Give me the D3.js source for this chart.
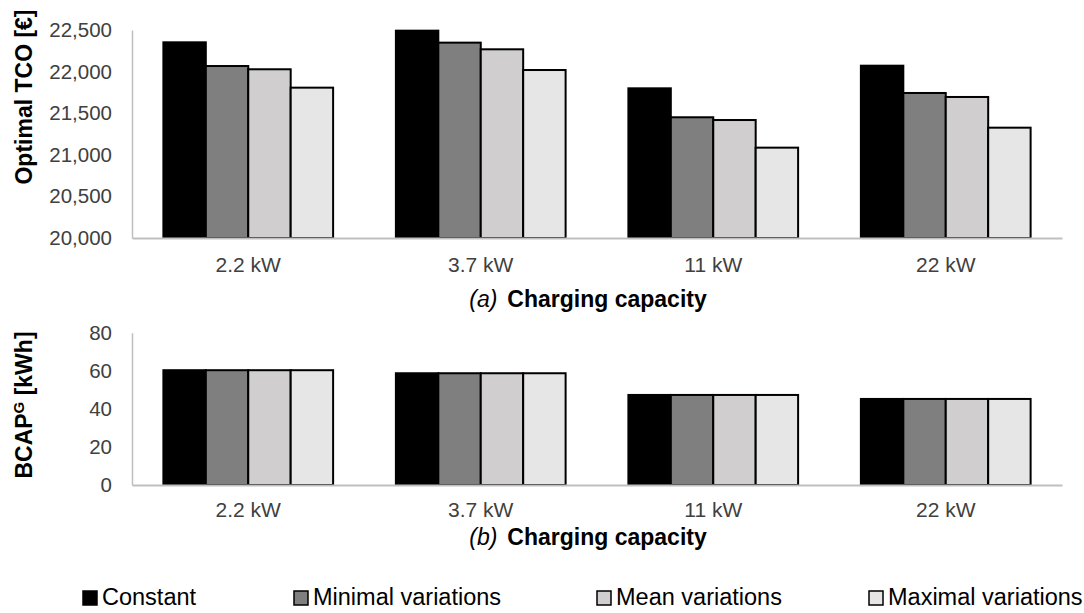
<!DOCTYPE html>
<html>
<head>
<meta charset="utf-8">
<script src="https://cdn.jsdelivr.net/npm/d3@7"></script>
<style>
  body { margin: 0; background: #fff; }
  svg { display: block; font-family: Arial, "Liberation Sans", sans-serif; }
</style>
</head>
<body>
<script>
// chart data
var categories = ['2.2 kW', '3.7 kW', '11 kW', '22 kW'];
var seriesNames = ['Constant', 'Minimal variations', 'Mean variations', 'Maximal variations'];
var seriesColors = ['#000000', '#7f7f7f', '#d0cece', '#e7e6e6'];

// (a) optimal TCO per charging capacity, one array per series
var tcoConstant = [22352, 22492, 21799, 22071];
var tcoMinimal  = [22067, 22348, 21451, 21743];
var tcoMean     = [22028, 22268, 21418, 21695];
var tcoMaximal  = [21807, 22019, 21086, 21326];
var tcoTicks = [20000, 20500, 21000, 21500, 22000, 22500];

// (b) battery capacity
var bcapConstant = [60.3, 58.7, 47.3, 45.2];
var bcapMinimal  = [60.3, 58.7, 47.3, 45.2];
var bcapMean     = [60.3, 58.7, 47.3, 45.2];
var bcapMaximal  = [60.3, 58.7, 47.3, 45.2];
var bcapTicks = [0, 20, 40, 60, 80];

var width = 1084, height = 613;
var left = 132, right = 1062;

var svg = d3.select('body').append('svg')
  .attr('width', width)
  .attr('height', height);

//shared x scales
var x0 = d3.scaleBand()
  .domain(categories)
  .range([left, right])
  .paddingInner(0.27)
  .paddingOuter(0.135);

var x1 = d3.scaleBand()
  .domain(seriesNames)
  .range([0, x0.bandwidth()]);

function drawPanel(series, yDomain, yRange, ticks, fmt, labelPad) {
  var y = d3.scaleLinear().domain(yDomain).range(yRange);
  var g = svg.append('g');

  // bars
  var groups = g.selectAll('g.grp')
    .data(categories)
    .enter().append('g')
    .attr('class', 'grp')
    .attr('transform', function(d) { return 'translate(' + x0(d) + ',0)'; });

  groups.selectAll('rect')
    .data(function(d, i) {
      return seriesNames.map(function(s, j) { return { s: s, j: j, v: series[j][i] }; });
    })
    .enter().append('rect')
    .attr('x', function(d) { return x1(d.s); })
    .attr('y', function(d) { return y(d.v); })
    .attr('width', x1.bandwidth())
    .attr('height', function(d) { return y(yDomain[0]) - y(d.v); })
    .attr('fill', function(d) { return seriesColors[d.j]; })
    .attr('stroke', '#000')
    .attr('stroke-width', 2);

  // y axis
  var ya = g.append('g')
    .attr('transform', 'translate(' + left + ',0)')
    .call(d3.axisLeft(y).tickValues(ticks).tickFormat(fmt).tickSize(0).tickSizeOuter(0).tickPadding(20));
  ya.select('.domain').attr('stroke', '#bfbfbf').attr('stroke-width', 1.5);
  ya.selectAll('text').attr('font-size', 20.5).attr('fill', '#404040')
    .attr('font-family', 'Arial, "Liberation Sans", sans-serif');

  // x axis
  var xa = g.append('g')
    .attr('transform', 'translate(0,' + y(yDomain[0]) + ')')
    .call(d3.axisBottom(x0).tickSize(0).tickSizeOuter(0).tickPadding(labelPad));
  xa.select('.domain').attr('stroke', '#bfbfbf').attr('stroke-width', 2);
  xa.selectAll('text').attr('font-size', 21).attr('fill', '#404040')
    .attr('font-family', 'Arial, "Liberation Sans", sans-serif');

  return y;
}

drawPanel([tcoConstant, tcoMinimal, tcoMean, tcoMaximal],
  [20000, 22500], [238, 30], tcoTicks, d3.format(','), 19);
drawPanel([bcapConstant, bcapMinimal, bcapMean, bcapMaximal],
  [0, 80], [485, 332.7], bcapTicks, d3.format('d'), 17);

// y axis titles
svg.append('text')
  .attr('transform', 'translate(32,97) rotate(-90)')
  .attr('text-anchor', 'middle')
  .attr('font-size', 23)
  .attr('font-weight', 'bold')
  .attr('fill', '#000')
  .text('Optimal TCO [€]');

var bt = svg.append('text')
  .attr('transform', 'translate(32,405) rotate(-90)')
  .attr('text-anchor', 'middle')
  .attr('font-size', 23)
  .attr('font-weight', 'bold')
  .attr('fill', '#000');
bt.append('tspan').text('BCAP');
bt.append('tspan').attr('font-size', 15).attr('dy', -8).text('G');
bt.append('tspan').attr('dy', 8).text(' [kWh]');

// panel captions
function caption(letter, yPos) {
  var t = svg.append('text')
    .attr('x', 588)
    .attr('y', yPos)
    .attr('text-anchor', 'middle')
    .attr('font-size', 23)
    .attr('fill', '#000');
  t.append('tspan').attr('font-style', 'italic').text('(' + letter + ')');
  t.append('tspan').attr('dx', 10).attr('font-weight', 'bold').text('Charging capacity');
}
caption('a', 307);
caption('b', 545);

// legend
var legendX = [83, 294, 597, 869];
var legend = svg.append('g').selectAll('g')
  .data(seriesNames)
  .enter().append('g')
  .attr('transform', function(d, i) { return 'translate(' + legendX[i] + ',591)'; });

legend.append('rect')
  .attr('width', 14)
  .attr('height', 14)
  .attr('fill', function(d, i) { return seriesColors[i]; })
  .attr('stroke', '#000')
  .attr('stroke-width', 1.5);

legend.append('text')
  .attr('x', 19)
  .attr('y', 14)
  .attr('font-size', 23.5)
  .attr('fill', '#000')
  .text(function(d) { return d; });
</script>
</body>
</html>
